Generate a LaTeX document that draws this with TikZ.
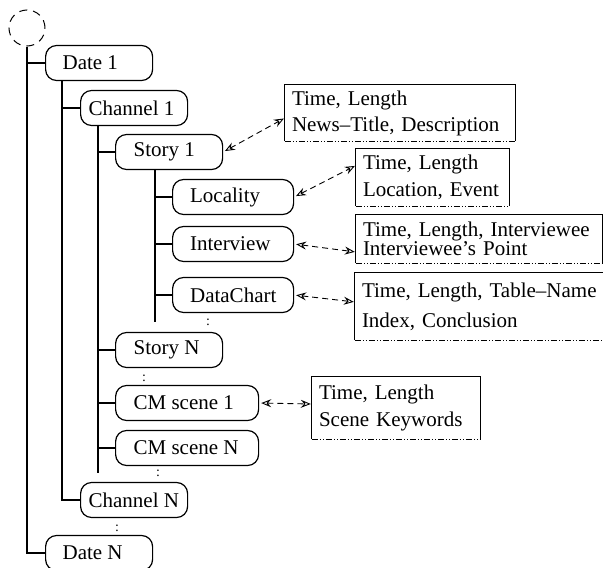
\documentclass[tikz,border=0pt]{standalone}
\usepackage{fontspec}
\setmainfont{Liberation Serif}
\usetikzlibrary{arrows.meta,calc}
\begin{document}
\begin{tikzpicture}[x=1pt,y=-1pt,
  every node/.style={font=\fontsize{21}{25}\selectfont},
  rb/.style={draw, line width=1.2pt, rounded corners=11pt, minimum height=35pt, anchor=west, inner ysep=0pt},
  info/.style={inner xsep=7pt, inner ysep=0pt, align=left},
  ln/.style={line width=1.2pt},
  bline/.style={line width=1pt, dash pattern=on 6pt off 2pt on 1pt off 2pt on 1pt off 2pt},
  dotsn/.style={font=\fontsize{14}{14}\selectfont, inner sep=0pt},
  link/.style={line width=0.9pt, dash pattern=on 6pt off 4pt,
    {Stealth[open,length=10pt,width=8pt,inset=3.5pt]}-{Stealth[open,length=10pt,width=8pt,inset=3.5pt]},
    shorten <=2pt, shorten >=1pt}
]
\useasboundingbox (0,0) rectangle (603,568);

% root
\node[draw, circle, minimum size=36pt, inner sep=0pt, line width=1pt, dash pattern=on 8pt off 6pt] (root) at (27,28) {};

% tree nodes
\node[rb, inner xsep=17pt] (d1) at (45,63) {\makebox[73pt][l]{Date 1}};
\node[rb, inner xsep=8pt] (c1) at (80,108) {\makebox[91pt][l]{Channel 1}};
\node[rb, inner xsep=18pt] (s1) at (115,152) {\makebox[71pt][l]{Story 1}};
\node[rb, inner xsep=17.5pt] (loc) at (172,197) {\makebox[86pt][l]{Locality}};
\node[rb, inner xsep=17.5pt] (int) at (172,244) {\makebox[86pt][l]{Interview}};
\node[rb, inner xsep=17.5pt] (dc) at (172,295) {\makebox[86pt][l]{DataChart}};
\node[rb, inner xsep=18pt] (sN) at (115,350) {\makebox[71pt][l]{Story N}};
\node[rb, inner xsep=18pt] (cm1) at (115,403) {\makebox[107pt][l]{CM scene 1}};
\node[rb, inner xsep=18pt] (cmN) at (115,448) {\makebox[107pt][l]{CM scene N}};
\node[rb, inner xsep=8pt] (cN) at (80,500) {\makebox[91pt][l]{Channel N}};
\node[rb, inner xsep=17pt] (dN) at (45,553) {\makebox[73pt][l]{Date N}};

% dots
\node[dotsn] (k1) at (208,322) {:};
\node[dotsn] (k2) at (144,378) {:};
\node[dotsn] (k3) at (158,473) {:};
\node[dotsn] (k4) at (117,528) {:};

% tree lines
\draw[ln] (root.south) |- (dN.west);
\draw[ln] (root.south |- d1.west) -- (d1.west);
\coordinate (v1) at ([xshift=17pt]d1.south west);
\draw[ln] (v1) |- (cN.west);
\draw[ln] (v1 |- c1.west) -- (c1.west);
\coordinate (v2) at ([xshift=18pt]c1.south west);
\coordinate (v2end) at (98,473);
\draw[ln] (v2) -- (v2 |- v2end);
\foreach \n in {s1,sN,cm1,cmN} \draw[ln] (v2 |- \n.west) -- (\n.west);
\coordinate (v3) at ([xshift=40pt]s1.south west);
\coordinate (v3end) at (155,322);
\draw[ln] (v3) -- (v3 |- v3end);
\foreach \n in {loc,int,dc} \draw[ln] (v3 |- \n.west) -- (\n.west);

% info boxes
\node[info, text width=216pt, minimum height=56pt, font=\fontsize{21}{26}\selectfont] (b1) at (400,113) {Time, Length\\News–Title, Description};
\node[info, text width=139pt, minimum height=57pt, font=\fontsize{21}{27}\selectfont] (b2) at (432.5,177.5) {Time, Length\\Location, Event};
\node[info, text width=232pt, minimum height=48pt, font=\fontsize{21}{18}\selectfont] (b3) at (479,239) {Time, Length, Interviewee\\Interviewee’s Point};
\node[info, text width=241pt, minimum height=67pt, font=\fontsize{21}{30}\selectfont] (b4) at (482.5,306.5) {Time, Length, Table–Name\\Index, Conclusion};
\node[info, text width=154pt, minimum height=62pt, font=\fontsize{21}{27}\selectfont] (b5) at (396,408) {Time, Length\\Scene Keywords};

\foreach \b in {b1,b2,b3,b4,b5} {
  \draw[ln, line width=1.1pt] (\b.south west) -- (\b.north west) -- (\b.north east) -- (\b.south east);
  \draw[bline] (\b.south west) -- (\b.south east);
}

% links
\draw[link] (s1.east) -- ([yshift=-5pt]b1.west);
\draw[link] (loc.east) -- ([yshift=12pt]b2.west);
\draw[link] (int.east) -- ([yshift=-13pt]b3.west);
\draw[link] (dc.east) -- ([yshift=4.5pt]b4.west);
\draw[link] (cm1.east) -- ([yshift=4pt]b5.west);
\end{tikzpicture}
\end{document}
